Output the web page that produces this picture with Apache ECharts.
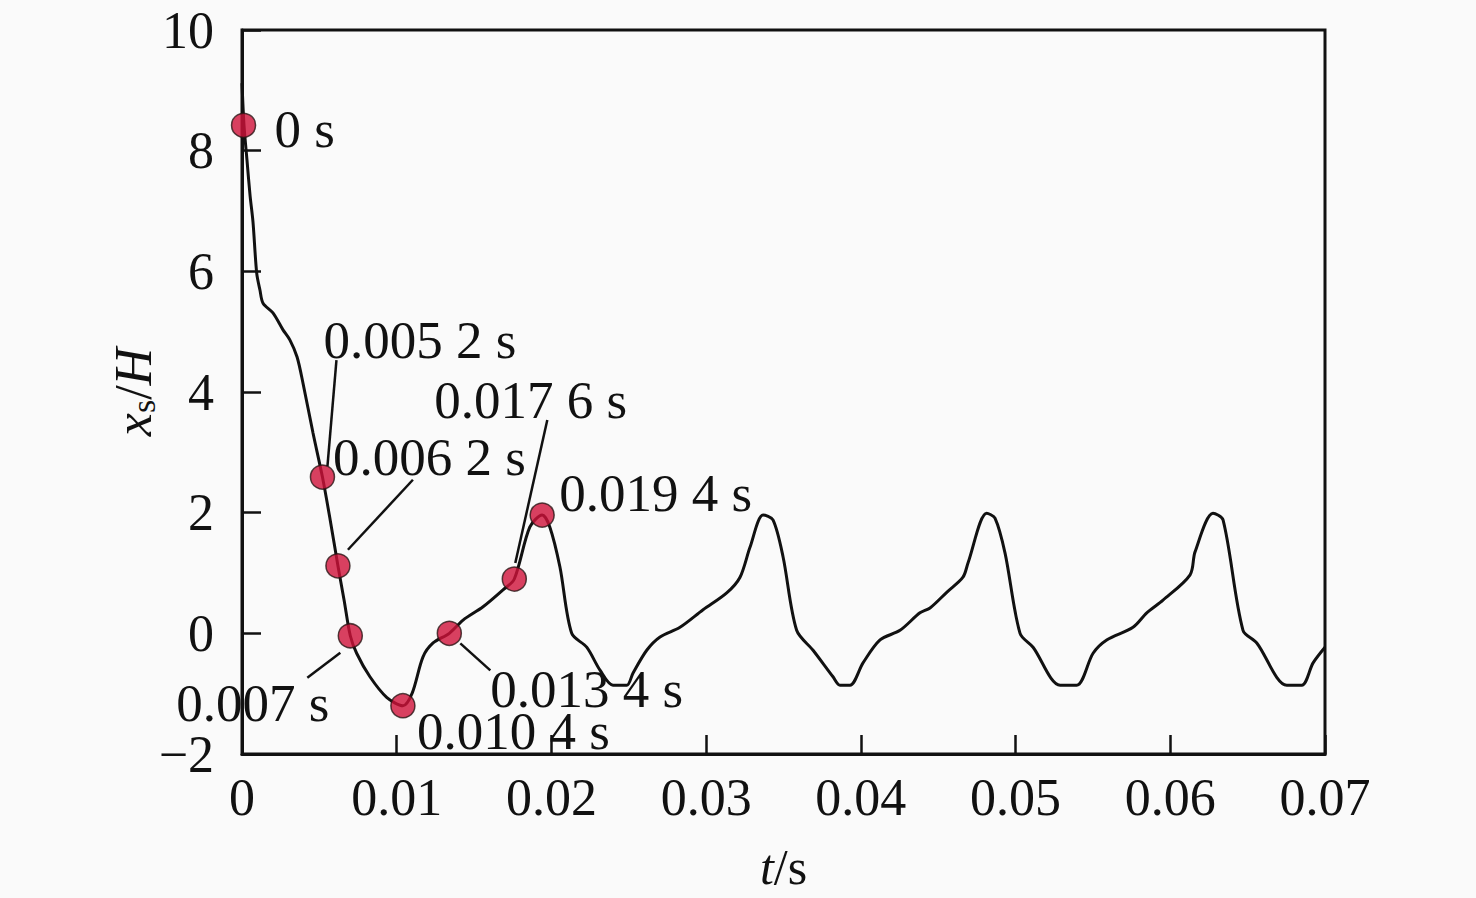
<!DOCTYPE html>
<html>
<head>
<meta charset="utf-8">
<script src="https://cdn.jsdelivr.net/npm/echarts@6/dist/echarts.min.js"></script>
<style>
html,body{margin:0;padding:0;background:#fafafa;}
#chart{width:1476px;height:898px;}
</style>
</head>
<body>
<div id="chart"></div>
<script>
// ---- data ----
const timeData = [
  0, 0.00013, 0.00032, 0.00052, 0.00071, 0.00095, 0.00116, 0.00136, 0.0020, 0.00265,
  0.0031, 0.00356, 0.00394, 0.00459, 0.0052, 0.0057, 0.0062, 0.0066, 0.0070, 0.00741,
  0.00827, 0.00935, 0.0104, 0.0110, 0.0117, 0.01235, 0.0134, 0.01429, 0.01558, 0.01687,
  0.0176, 0.0186, 0.0194, 0.0199, 0.02055, 0.02131, 0.02228, 0.02314, 0.02398, 0.02487,
  0.02527, 0.02616, 0.02702, 0.02831, 0.0298, 0.03133, 0.03219, 0.03284, 0.03368, 0.03432,
  0.03497, 0.03585, 0.03691, 0.0382, 0.03865, 0.0393, 0.04014, 0.04124, 0.04253, 0.04382,
  0.04447, 0.04555, 0.0466, 0.04693, 0.04813, 0.04867, 0.04932, 0.05029, 0.05113, 0.05288,
  0.05395, 0.05501, 0.05589, 0.05759, 0.05848, 0.05953, 0.06128, 0.0616, 0.06276, 0.06341,
  0.0647, 0.06559, 0.06753, 0.0685, 0.06923, 0.0700
];
const xsData = [
  9.12, 8.42, 7.85, 7.26, 6.82, 5.97, 5.69, 5.47, 5.31, 5.03,
  4.86, 4.58, 4.15, 3.32, 2.59, 1.88, 1.12, 0.55, -0.04, -0.33,
  -0.72, -1.06, -1.20, -0.99, -0.39, -0.16, 0.00, 0.22, 0.44, 0.72,
  0.90, 1.76, 1.96, 1.76, 1.10, 0.00, -0.23, -0.61, -0.86, -0.86,
  -0.66, -0.28, -0.06, 0.10, 0.39, 0.67, 0.93, 1.43, 1.96, 1.88,
  1.27, 0.05, -0.28, -0.72, -0.86, -0.86, -0.49, -0.11, 0.05, 0.34,
  0.42, 0.68, 0.93, 1.17, 1.99, 1.91, 1.33, 0.00, -0.23, -0.86,
  -0.86, -0.33, -0.11, 0.10, 0.34, 0.55, 0.97, 1.35, 1.99, 1.88,
  0.05, -0.16, -0.86, -0.86, -0.49, -0.23
];
const markerTimes  = [0.0001, 0.0052, 0.0062, 0.0070, 0.0104, 0.0134, 0.0176, 0.0194];
const markerValues = [8.42, 2.59, 1.12, -0.04, -1.20, 0.00, 0.90, 1.96];
const markerLabels = ['0 s', '0.005 2 s', '0.006 2 s', '0.007 s', '0.010 4 s', '0.013 4 s', '0.017 6 s', '0.019 4 s'];

// ---- annotation placement (pixel offsets from each marker; style only) ----
const labelPlacement = [
  {dx: 31,   dy: 4,    lead: null},
  {dx: 1,    dy: -137, lead: [5, -11, 14, -117]},
  {dx: -5,   dy: -109, lead: [10, -16, 75, -86]},
  {dx: -174, dy: 67,   lead: [-10, 17, -43, 42]},
  {dx: 14,   dy: 25,   lead: null},
  {dx: 41,   dy: 56,   lead: [11, 10, 41, 37]},
  {dx: -80,  dy: -179, lead: [1, -16, 33, -159]},
  {dx: 17,   dy: -22,  lead: null}
];

const FONT = '"Liberation Serif", "Times New Roman", serif';
const INK = '#111111';

const lineData = timeData.map((t, i) => [t, xsData[i]]);
const markerData = markerTimes.map((t, i) => [t, markerValues[i]]);

const chart = echarts.init(document.getElementById('chart'), null, {renderer: 'svg'});

const option = {
  backgroundColor: '#fafafa',
  animation: false,
  grid: {
    left: 242, right: 151, top: 30, bottom: 144,
    containLabel: false, outerBoundsMode: 'none',
    show: true, borderColor: INK, borderWidth: 3, backgroundColor: 'transparent'
  },
  xAxis: {
    type: 'value', min: 0, max: 0.07, interval: 0.01,
    name: '{i|t}{n|/s}',
    nameLocation: 'middle', nameGap: 88, nameMoveOverlap: false,
    nameTextStyle: {
      rich: {
        i: {fontFamily: FONT, fontSize: 50, fontStyle: 'italic', color: INK},
        n: {fontFamily: FONT, fontSize: 50, color: INK}
      }
    },
    axisLine: {show: true, onZero: false, lineStyle: {color: INK, width: 3}},
    axisTick: {show: true, inside: true, length: 19, lineStyle: {color: INK, width: 2.5}},
    splitLine: {show: false},
    axisLabel: {
      fontFamily: FONT, fontSize: 52, color: INK, margin: 17,
      formatter: v => (Math.abs(v) < 1e-9 ? '0' : v.toFixed(2))
    }
  },
  yAxis: {
    type: 'value', min: -2, max: 10, interval: 2,
    name: '{i|x}{sub|s}{n|/}{i|H}',
    nameLocation: 'middle', nameGap: 82, nameMoveOverlap: false,
    nameTextStyle: {
      rich: {
        i: {fontFamily: FONT, fontSize: 52, fontStyle: 'italic', color: INK, lineHeight: 54},
        n: {fontFamily: FONT, fontSize: 52, color: INK, lineHeight: 54},
        sub: {fontFamily: FONT, fontSize: 34, color: INK, lineHeight: 16, verticalAlign: 'bottom'}
      }
    },
    axisLine: {show: true, onZero: false, lineStyle: {color: INK, width: 3}},
    axisTick: {show: true, inside: true, length: 19, lineStyle: {color: INK, width: 2.5}},
    splitLine: {show: false},
    axisLabel: {
      fontFamily: FONT, fontSize: 52, color: INK, margin: 28,
      formatter: v => String(v).replace('-', '\u2212')
    }
  },
  series: [
    {
      type: 'line', data: lineData, showSymbol: false, smooth: 0.3,
      lineStyle: {color: INK, width: 3}, z: 2, silent: true
    },
    {
      type: 'scatter', data: markerData, symbol: 'circle', symbolSize: 24,
      itemStyle: {color: '#cf1239', borderColor: '#2a1515', borderWidth: 1.5},
      z: 5, silent: true
    }
  ]
};
chart.setOption(option);

function placeAnnotations() {
  const elements = [];
  markerData.forEach((p, i) => {
    const c = chart.convertToPixel({gridIndex: 0}, p);
    const pl = labelPlacement[i];
    if (pl.lead) {
      elements.push({
        type: 'line', z: 10, silent: true,
        shape: {x1: c[0] + pl.lead[0], y1: c[1] + pl.lead[1], x2: c[0] + pl.lead[2], y2: c[1] + pl.lead[3]},
        style: {stroke: INK, lineWidth: 2.5}
      });
    }
    elements.push({
      type: 'text', z: 10, silent: true,
      x: c[0] + pl.dx, y: c[1] + pl.dy,
      style: {
        text: markerLabels[i], fill: INK,
        font: '53px ' + FONT, fontSize: 53, fontFamily: FONT,
        textAlign: 'left', textVerticalAlign: 'middle', align: 'left', verticalAlign: 'middle'
      }
    });
  });
  chart.setOption({graphic: {elements: elements}});
}
placeAnnotations();
</script>
</body>
</html>
